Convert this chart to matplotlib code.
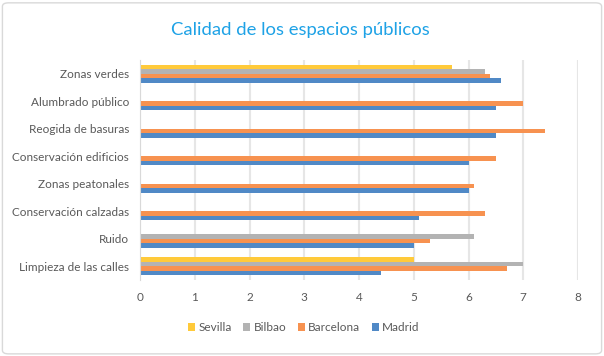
import numpy as np
import matplotlib
matplotlib.use("Agg")
import matplotlib.pyplot as plt
from matplotlib.patches import FancyBboxPatch

categories = ["Limpieza de las calles", "Ruido", "Conservación calzadas",
              "Zonas peatonales", "Conservación edificios", "Reogida de basuras",
              "Alumbrado público", "Zonas verdes"]
madrid = [4.4, 5.0, 5.1, 6.0, 6.0, 6.5, 6.5, 6.6]
barcelona = [6.7, 5.3, 6.3, 6.1, 6.5, 7.4, 7.0, 6.4]
bilbao = [7.0, 6.1, np.nan, np.nan, np.nan, np.nan, np.nan, 6.3]
sevilla = [5.0, np.nan, np.nan, np.nan, np.nan, np.nan, np.nan, 5.7]
series_names = ["Madrid", "Barcelona", "Bilbao", "Sevilla"]
xticks = [0, 1, 2, 3, 4, 5, 6, 7, 8]

colors = ["#5089C6", "#F79250", "#B3B3B3", "#FFCA3A"]
txt = "#595959"
plt.rcParams['font.family'] = ['Lato', 'DejaVu Sans']

fig = plt.figure(figsize=(6.04, 3.56), dpi=100)
fig.patches.append(FancyBboxPatch((0.004, 0.006), 0.992, 0.986,
                                  boxstyle="round,pad=0,rounding_size=0.01",
                                  transform=fig.transFigure, fill=False,
                                  edgecolor="#D9D9D9", linewidth=1.0))
ax = fig.add_axes([0.2318, 0.2135, 0.7252, 0.618])

y = np.arange(len(categories))
h = 0.165
data = [madrid, barcelona, bilbao, sevilla]
for i, (vals, c, name) in enumerate(zip(data, colors, series_names)):
    ax.barh(y + (i - 1.5) * h, vals, height=h, color=c, label=name, zorder=3)

ax.set_xlim(0, 8)
ax.set_ylim(-0.5, len(categories) - 0.5)
ax.set_xticks(xticks)
ax.set_xticklabels([str(t) for t in xticks], color=txt, fontsize=8.5)
ax.set_yticks(y)
ax.set_yticklabels(categories, color=txt, fontsize=8.5)
ax.tick_params(length=0, pad=8)
ax.tick_params(axis='x', pad=9)
ax.grid(axis='x', color="#E6E6E6", linewidth=1.5, zorder=0)
for s in ["top", "right", "bottom"]:
    ax.spines[s].set_visible(False)
ax.spines["left"].set_color("#D9D9D9")
ax.spines["left"].set_zorder(4)

fig.text(0.497, 0.916, "Calidad de los espacios públicos", ha="center", va="center",
         fontsize=13.3, color="#1EA2E6")

handles, labels = ax.get_legend_handles_labels()
fig.legend(handles[::-1], labels[::-1], loc="center", bbox_to_anchor=(0.503, 0.079),
           ncol=4, frameon=False, fontsize=8.5, handlelength=0.6, handleheight=0.6,
           handletextpad=0.25, columnspacing=1.0, labelcolor=txt)

fig.savefig("out.png", dpi=100)
